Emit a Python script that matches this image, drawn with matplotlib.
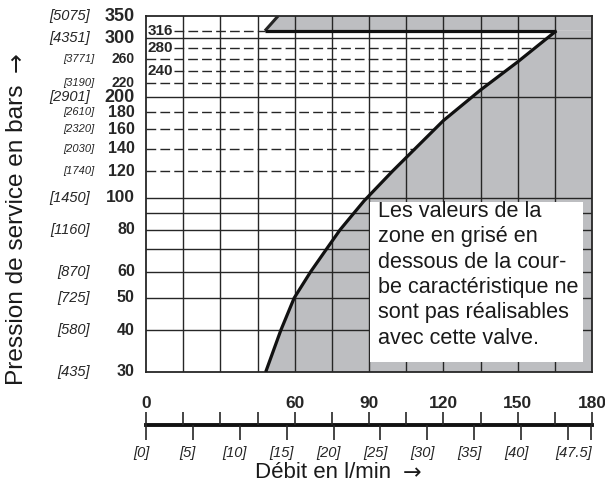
import numpy as np
import matplotlib
matplotlib.use("Agg")
import matplotlib.pyplot as plt
from matplotlib.patches import Rectangle
from matplotlib.ticker import NullLocator

# characteristic curve (flow l/min, pressure bar)
Q_CURVE = [48.3, 54.4, 59.8, 66.5, 72.8, 78.3, 84.0, 88.0, 99.5, 120.0, 135.0, 150.0, 165.6]
P_CURVE = [30, 40, 50, 60, 70, 80, 90, 97.7, 120, 170, 210, 255, 316]

# grey strip above the 316 bar limit: (flow at 316, flow at 350)
TOP_EDGE_Q = [48.0, 53.3]
P_MAX_LINE = 316

SOLID_P = [40, 50, 60, 70, 80, 90, 100, 200, 300]
DASHED_P = [120, 140, 160, 180, 220, 240, 260, 280, 316]
INNER_LABELS = [316, 280, 240]
FLOW_GRID = [15, 30, 45, 60, 75, 90, 105, 120, 135, 150, 165]

BAR_TICKS = [350, 300, 260, 220, 200, 180, 160, 140, 120, 100, 80, 60, 50, 40, 30]
PSI_LABELS = ["[5075]", "[4351]", "[3771]", "[3190]", "[2901]", "[2610]", "[2320]",
              "[2030]", "[1740]", "[1450]", "[1160]", "[870]", "[725]", "[580]", "[435]"]

FLOW_TICKS = [0, 15, 30, 45, 60, 75, 90, 105, 120, 135, 150, 165, 180]
FLOW_LABELS = [0, 60, 90, 120, 150, 180]
GPM_TICKS = [0, 5, 10, 15, 20, 25, 30, 35, 40, 45, 47.5]
GPM_LABELS = ["[0]", "[5]", "[10]", "[15]", "[20]", "[25]", "[30]", "[35]", "[40]", None, "[47.5]"]
L_PER_GAL = 3.785

NOTE = ("Les valeurs de la\nzone en grisé en\ndessous de la cour-\n"
        "be caractéristique ne\nsont pas réalisables\navec cette valve.")

INK = "#262626"
GREY = "#bdbec1"
SANS = ["Liberation Sans", "DejaVu Sans"]

W, H = 605, 482
fig = plt.figure(figsize=(W / 100, H / 100), dpi=100)
ax = fig.add_axes([146 / W, 110 / H, 446 / W, 356 / H])
ax.set_yscale("log")
ax.set_xlim(0, 180)
ax.set_ylim(30, 350)
ax.set_xticks([])
ax.set_yticks([])
ax.yaxis.set_minor_locator(NullLocator())
for s in ax.spines.values():
    s.set_linewidth(1.3)
    s.set_color(INK)

# grey, not achievable region
ax.fill(Q_CURVE + [180, 180], P_CURVE + [P_MAX_LINE, 30], color=GREY, lw=0, zorder=1)
ax.fill([TOP_EDGE_Q[0], TOP_EDGE_Q[1], 180, 180], [P_MAX_LINE, 350, 350, P_MAX_LINE],
        color=GREY, lw=0, zorder=1)
ax.plot(TOP_EDGE_Q, [P_MAX_LINE, 350], color=INK, lw=2.2, zorder=4, solid_capstyle="butt")

# grid
for q in FLOW_GRID:
    ax.axvline(q, color=INK, lw=1.0, zorder=2)
for p in SOLID_P:
    ax.axhline(p, color=INK, lw=1.0, zorder=2)

logp = np.log(P_CURVE)
for p in DASHED_P:
    x0 = 11.5 if p in INNER_LABELS else 0
    x1 = TOP_EDGE_Q[0] if p == P_MAX_LINE else np.interp(np.log(p), logp, Q_CURVE)
    ax.plot([x0, x1], [p, p], color=INK, lw=1.0, dashes=(7, 3), zorder=2)

for p in INNER_LABELS:
    ax.text(0.8, p, str(p), ha="left", va="center", fontsize=11,
            fontweight="bold", family=SANS, color=INK, zorder=4)

# curve + max pressure line
ax.plot(Q_CURVE, P_CURVE, color="#111111", lw=2.3, zorder=4,
        solid_capstyle="butt", solid_joinstyle="round")
ax.plot([TOP_EDGE_Q[0], Q_CURVE[-1]], [P_MAX_LINE, P_MAX_LINE], color="#111111",
        lw=2.3, zorder=4, solid_capstyle="butt")

# note box
ax.add_patch(Rectangle((90.3, 32.2), 85.9, 97.3 - 32.2, facecolor="white",
                       edgecolor="none", zorder=5))
ax.text(93.5, 97.6, NOTE, ha="left", va="top", fontsize=15.6, family=SANS,
        color="#1a1a1a", linespacing=1.27, zorder=6)

# y tick labels (bar + psi)
ytr = ax.get_yaxis_transform()
for p, psi in zip(BAR_TICKS, PSI_LABELS):
    if p in (350, 300, 200):
        fs, pfs = 13, 10.5
    elif p == 100:
        fs, pfs = 12.5, 10.5
    elif p in (260, 220):
        fs, pfs = 10, 8
    else:
        fs, pfs = 11.5, 8 if p > 100 else 10.5
    ax.text(-0.025, p, str(p), transform=ytr, ha="right", va="center",
            fontsize=fs, fontweight="bold", family=SANS, color=INK)
    px = -0.116 if pfs < 10 else -0.125
    ax.text(px, p, psi, transform=ytr, ha="right", va="center",
            fontsize=pfs, style="italic", family=SANS, color=INK)

# flow scale (l/min above, gpm below)
ax2 = fig.add_axes([146 / W, 42 / H, 446 / W, 28 / H])
ax2.set_xlim(0, 180)
ax2.set_ylim(-15, 13)
ax2.axis("off")
ax2.axhline(0, color="#111111", lw=2.8, clip_on=False)
ax2.vlines(FLOW_TICKS, 0, 13, color=INK, lw=1.2, clip_on=False)
gpm_x = [g * L_PER_GAL for g in GPM_TICKS]
ax2.vlines(gpm_x, -15, 0, color=INK, lw=1.2, clip_on=False)
for q in FLOW_LABELS:
    ax2.text(q, 16.5, str(q), ha="center", va="baseline", fontsize=12.5,
             fontweight="bold", family=SANS, color=INK, clip_on=False)
for x, lab in zip(gpm_x, GPM_LABELS):
    if lab is None:
        continue
    if lab == "[47.5]":
        ax2.text(180, -32, lab, ha="right", va="baseline", fontsize=10.5,
                 style="italic", family=SANS, color=INK, clip_on=False)
    else:
        ax2.text(x - 2, -32, lab, ha="center", va="baseline", fontsize=10.5,
                 style="italic", family=SANS, color=INK, clip_on=False)

# axis titles (arrows drawn in DejaVu, which has a long arrow glyph)
fig.text(255 / W, 4 / H, "Débit en l/min", ha="left", va="baseline",
         fontsize=16, family=SANS, color="#1a1a1a")
fig.text(403 / W, 3 / H, "→", ha="left", va="baseline",
         fontsize=16, family="DejaVu Sans", color="#1a1a1a")
fig.text(17 / W, (H - 385) / H, "Pression de service en bars", rotation=90,
         ha="center", va="bottom", fontsize=17.6, family=SANS, color="#1a1a1a")
fig.text(17 / W, (H - 62) / H, "→", rotation=90, ha="center", va="center",
         fontsize=17, family="DejaVu Sans", color="#1a1a1a")

fig.savefig("out.png", dpi=100)
